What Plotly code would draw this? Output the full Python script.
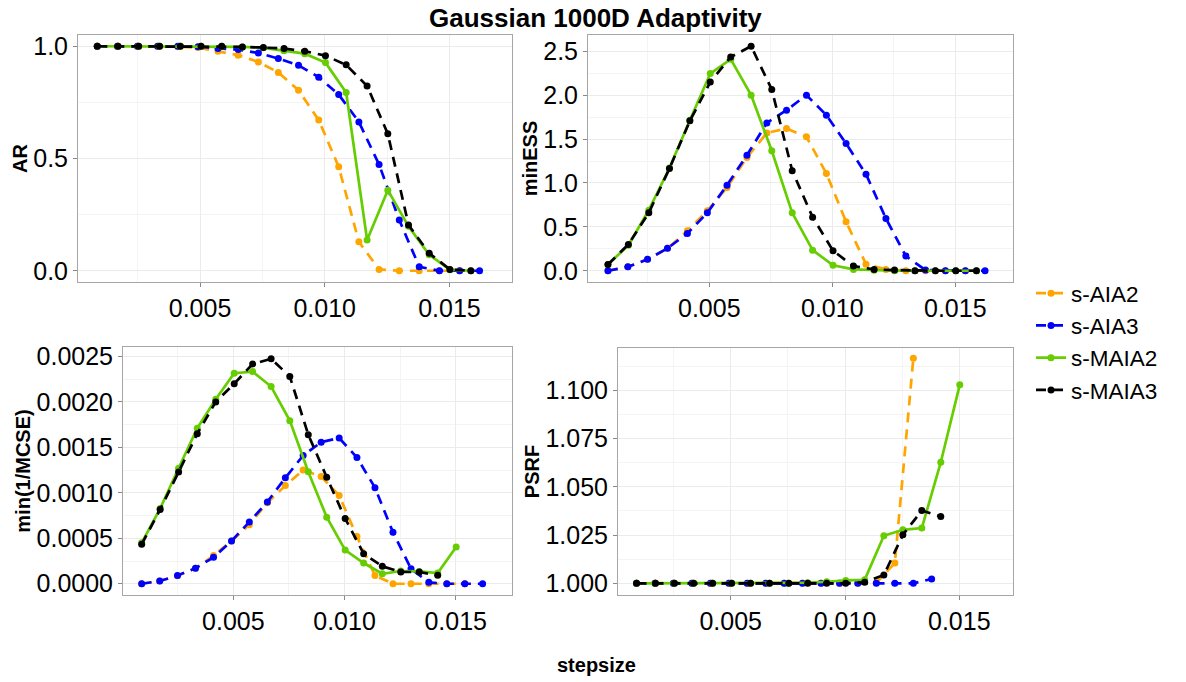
import plotly.graph_objects as go

# ---------------- data ----------------
series_names = ["s-AIA2", "s-AIA3", "s-MAIA2", "s-MAIA3"]
series_colors = ["#FFA500", "#0000FF", "#66CD00", "#000000"]
series_dash = ["dash", "dash", "solid", "dash"]

# step sizes (AIA methods and MAIA methods use slightly different grids)
x_aia = [0.00088, 0.00169, 0.00249, 0.00330, 0.00411, 0.00492, 0.00572, 0.00653,
         0.00734, 0.00814, 0.00895, 0.00976, 0.01056, 0.01137, 0.01218, 0.01299,
         0.01379, 0.01460, 0.01541, 0.01621]
x_maia = [0.00088, 0.00171, 0.00254, 0.00338, 0.00421, 0.00504, 0.00587, 0.00670,
          0.00754, 0.00837, 0.00920, 0.01003, 0.01086, 0.01170, 0.01253, 0.01336,
          0.01419, 0.01502, 0.01586]

# AR
ar_aia2 = [1.0, 1.0, 1.0, 1.0, 0.998, 0.994, 0.978, 0.96, 0.93, 0.883, 0.804, 0.671,
           0.463, 0.129, 0.006, 0.0, 0.0, 0.0, 0.0, None]
ar_aia3 = [1.0, 1.0, 1.0, 1.0, 1.0, 0.998, 0.99, 0.985, 0.97, 0.945, 0.915, 0.862,
           0.785, 0.663, 0.473, 0.226, 0.018, 0.0, 0.0, 0.0]
ar_maia2 = [1.0, 1.0, 1.0, 1.0, 1.0, 1.0, 1.0, 0.997, 0.993, 0.98, 0.967, 0.927,
            0.794, 0.137, 0.359, 0.198, 0.071, 0.005, 0.0]
ar_maia3 = [1.0, 1.0, 1.0, 1.0, 1.0, 1.0, 1.0, 0.997, 0.994, 0.99, 0.978, 0.958,
            0.917, 0.823, 0.61, 0.204, 0.078, 0.006, 0.0]

# minESS
ess_aia2 = [0.0, 0.045, 0.13, 0.255, 0.455, 0.683, 0.948, 1.29, 1.57, 1.62, 1.525,
            1.108, 0.558, 0.075, 0.015, 0.0, 0.0, 0.0, 0.0, None]
ess_aia3 = [0.0, 0.045, 0.13, 0.255, 0.425, 0.66, 0.975, 1.316, 1.684, 1.829, 2.0,
            1.772, 1.449, 1.10, 0.596, 0.167, 0.008, 0.0, 0.0, 0.0]
ess_maia2 = [0.072, 0.29, 0.69, 1.17, 1.715, 2.246, 2.41, 2.0, 1.366, 0.66, 0.235,
             0.063, 0.015, 0.005, 0.0, 0.0, 0.0, 0.0, 0.0]
ess_maia3 = [0.072, 0.30, 0.66, 1.165, 1.707, 2.15, 2.435, 2.557, 2.064, 1.14, 0.61,
             0.228, 0.053, 0.015, 0.008, 0.0, 0.0, 0.0, 0.0]

# min(1/MCSE)
mcse_aia2 = [0.0, 0.00003, 0.000088, 0.00017, 0.00031, 0.00047, 0.00065, 0.00089,
             0.00108, 0.00125, 0.00118, 0.00097, 0.00052, 0.00009, 0.0, 0.0, 0.0,
             0.0, 0.0, None]
mcse_aia3 = [0.0, 0.00003, 0.00009, 0.00017, 0.00029, 0.00047, 0.00068, 0.0009,
             0.001165, 0.00141, 0.001557, 0.001603, 0.001388, 0.001057, 0.000565,
             0.000165, 0.000015, 0.0, 0.0, 0.0]
mcse_maia2 = [0.00045, 0.000827, 0.00127, 0.00171, 0.00203, 0.002316, 0.002334,
              0.002169, 0.001794, 0.001231, 0.000732, 0.00037, 0.000228, 0.00011,
              0.00014, 0.000135, 0.000118, 0.000404, None]
mcse_maia3 = [0.000434, 0.000816, 0.00123, 0.00165, 0.002, 0.0022, 0.002417,
              0.002474, 0.00228, 0.00164, 0.001172, 0.000717, 0.000331, 0.000191,
              0.000129, 0.000129, 0.000092, None, None]

# PSRF
psrf_aia2 = [1.0, 1.0, 1.0, 1.0, 1.0, 1.0, 1.0, 1.0, 1.0, 1.0, 1.0, 1.0, 1.0,
             1.0003, 1.0105, 1.1166, None, None, None, None]
psrf_aia3 = [1.0, 1.0, 1.0, 1.0, 1.0, 1.0, 1.0, 1.0, 1.0, 1.0, 1.0, 1.0, 1.0,
             1.0, 1.0, 1.0, 1.0022, None, None, None]
psrf_maia2 = [1.0, 1.0, 1.0, 1.0, 1.0, 1.0, 1.0, 1.0, 1.0, 1.0003, 1.0008, 1.0015,
              1.0018, 1.0246, 1.0277, 1.0286, 1.0627, 1.1028, None]
psrf_maia3 = [1.0, 1.0, 1.0, 1.0, 1.0, 1.0, 1.0, 1.0, 1.0, 1.0, 1.0, 1.0, 1.0005,
              1.0043, 1.0251, 1.0377, 1.0346, None, None]

panel_titles = ["AR", "minESS", "min(1/MCSE)", "PSRF"]
x_tick_vals = [0.005, 0.010, 0.015]
x_tick_text = ["0.005", "0.010", "0.015"]

panels = [
    [ar_aia2, ar_aia3, ar_maia2, ar_maia3],
    [ess_aia2, ess_aia3, ess_maia2, ess_maia3],
    [mcse_aia2, mcse_aia3, mcse_maia2, mcse_maia3],
    [psrf_aia2, psrf_aia3, psrf_maia2, psrf_maia3],
]
series_x = [x_aia, x_aia, x_maia, x_maia]

# ---------------- layout geometry (pixels) ----------------
W, H = 1186, 682
boxes = [  # left, right, top, bottom
    (78, 512, 35, 282),
    (588, 1013, 35, 282),
    (123, 512, 347, 595),
    (618, 1013, 348, 595),
]
y_ranges = [[-0.05, 1.05], [-0.128, 2.685], [-0.000124, 0.002604], [0.99393, 1.1219]]
x_ranges = [[0.000107, 0.01751], [0.000069, 0.017346], [0.00004, 0.017531], [0.00007, 0.017349]]
y_dtick = [0.5, 0.5, 0.0005, 0.025]
y_fmt = [".1f", ".1f", ".4f", ".3f"]

FONT = "Liberation Sans, Arial, Helvetica, sans-serif"
GRID = "#EBEBEB"
MINOR = "#F4F4F4"
BORDER = "#A6A6A6"

fig = go.Figure()

for p, data in enumerate(panels):
    ax = "" if p == 0 else str(p + 1)
    for s in range(4):
        dash = "10px,7px" if series_dash[s] == "dash" else "solid"
        fig.add_trace(go.Scatter(
            x=series_x[s], y=data[s],
            mode="lines+markers",
            name=series_names[s],
            legendgroup=series_names[s],
            showlegend=(p == 0),
            line=dict(color=series_colors[s], width=2.7, dash=dash),
            marker=dict(color=series_colors[s], size=7),
            xaxis="x" + ax, yaxis="y" + ax,
        ))

layout = dict(
    width=W, height=H,
    margin=dict(l=0, r=0, t=0, b=0),
    paper_bgcolor="white", plot_bgcolor="white",
    font=dict(family=FONT, color="black"),
    legend=dict(
        x=1031 / W, y=1 - 272 / H, xanchor="left", yanchor="top",
        font=dict(size=22.5, family=FONT, color="black"),
        itemwidth=30, bgcolor="rgba(0,0,0,0)", tracegroupgap=0,
    ),
    annotations=[
        dict(text="Gaussian 1000D Adaptivity", x=595 / W, y=1 - 18 / H,
             xref="paper", yref="paper", showarrow=False,
             font=dict(size=26, family=FONT, weight="bold", color="black"),
             xanchor="center", yanchor="middle"),
        dict(text="stepsize", x=596 / W, y=1 - 665 / H,
             xref="paper", yref="paper", showarrow=False,
             font=dict(size=20, family=FONT, weight="bold", color="black"),
             xanchor="center", yanchor="middle"),
    ],
)

for p in range(4):
    l, r, t, b = boxes[p]
    key = "" if p == 0 else str(p + 1)
    layout["xaxis" + key] = dict(
        domain=[l / W, r / W], range=x_ranges[p], anchor="y" + key,
        tickvals=x_tick_vals, ticktext=x_tick_text,
        showgrid=True, gridcolor=GRID, gridwidth=1,
        minor=dict(tickvals=[0.0025, 0.0075, 0.0125, 0.0175], showgrid=True,
                   gridcolor=MINOR, gridwidth=1, ticklen=0),
        showline=True, mirror=True, linecolor=BORDER, linewidth=1,
        ticks="outside", ticklen=4, tickcolor="#888888",
        tickfont=dict(size=25, family=FONT, color="black"),
        zeroline=False, automargin=False, fixedrange=True,
    )
    layout["yaxis" + key] = dict(
        domain=[1 - b / H, 1 - t / H], range=y_ranges[p], anchor="x" + key,
        tick0=0 if p < 3 else 1.0, dtick=y_dtick[p], tickformat=y_fmt[p],
        showgrid=True, gridcolor=GRID, gridwidth=1,
        minor=dict(dtick=y_dtick[p] / 2, showgrid=True, gridcolor=MINOR,
                   gridwidth=1, ticklen=0),
        showline=True, mirror=True, linecolor=BORDER, linewidth=1,
        ticks="outside", ticklen=4, tickcolor="#888888",
        tickfont=dict(size=25, family=FONT, color="black"),
        title=dict(text=panel_titles[p], standoff=0,
                   font=dict(size=20, family=FONT, weight="bold", color="black")),
        zeroline=False, automargin=False, fixedrange=True,
    )

fig.update_layout(**layout)
fig.write_html(
    "out.html",
    config={"displayModeBar": False},
    post_script="document.body.style.margin='0';document.body.style.overflow='hidden';",
)
